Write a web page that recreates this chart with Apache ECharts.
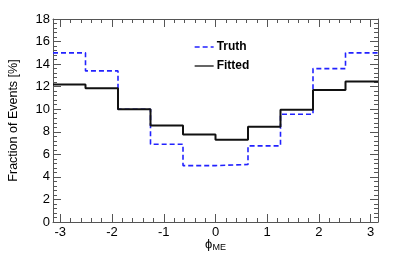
<!DOCTYPE html>
<html><head><meta charset="utf-8">
<script src="https://cdn.jsdelivr.net/npm/echarts@6/dist/echarts.min.js"></script>
<style>html,body{margin:0;padding:0;background:#fff}#c{width:407px;height:256px}</style>
</head><body><div id="c"></div>
<script>
const binEdges = [-3.1416, -2.5133, -1.8850, -1.2566, -0.6283, 0, 0.6283, 1.2566, 1.8850, 2.5133, 3.1416];
const truthValues = [15.0, 13.4, 10.0, 6.9, 5.0, 5.1, 6.75, 9.55, 13.6, 15.0];
const fittedValues = [12.2, 11.85, 10.0, 8.55, 7.75, 7.3, 8.45, 9.95, 11.7, 12.45];
const xMajorTicks = [-3, -2, -1, 0, 1, 2, 3];
const xMinorTicks = [-3.0,-2.8,-2.6,-2.4,-2.2,-1.8,-1.6,-1.4,-1.2,-0.8,-0.6,-0.4,-0.2,0.2,0.4,0.6,0.8,1.2,1.4,1.6,1.8,2.2,2.4,2.6,2.8,3.0].filter(v => !xMajorTicks.includes(v));
const yMajorTicks = [0, 2, 4, 6, 8, 10, 12, 14, 16, 18];
const yMinorTicks = [0.4,0.8,1.2,1.6,2.4,2.8,3.2,3.6,4.4,4.8,5.2,5.6,6.4,6.8,7.2,7.6,8.4,8.8,9.2,9.6,10.4,10.8,11.2,11.6,12.4,12.8,13.2,13.6,14.4,14.8,15.2,15.6,16.4,16.8,17.2,17.6];
const seriesNames = ['Truth', 'Fitted'];

function stepData(vals) {
  const d = vals.map((v, i) => [binEdges[i], v]);
  d.push([binEdges[binEdges.length - 1], vals[vals.length - 1]]);
  return d;
}
const font = 'Liberation Sans, Helvetica, Arial, sans-serif';
const axCol = '#555';
const chart = echarts.init(document.getElementById('c'), null, {renderer: 'canvas'});
const xBase = {type: 'value', min: binEdges[0], max: binEdges[binEdges.length-1], splitLine: {show: false}};
const yBase = {type: 'value', min: 0, max: 18, splitLine: {show: false}};
function xAx(pos, ticks, len, line, label) {
  return Object.assign({}, xBase, {
    position: pos,
    axisLine: {show: line, onZero: false, lineStyle: {color: axCol, width: 1}},
    axisTick: {show: true, inside: true, length: len, customValues: ticks, lineStyle: {color: axCol}},
    axisLabel: label ? {customValues: ticks, fontFamily: font, fontSize: 13, color: '#000', margin: 4} : {show: false}
  });
}
function yAx(pos, ticks, len, line, label) {
  return Object.assign({}, yBase, {
    position: pos,
    axisLine: {show: line, onZero: false, lineStyle: {color: axCol, width: 1}},
    axisTick: {show: true, inside: true, length: len, customValues: ticks, lineStyle: {color: axCol}},
    axisLabel: label ? {customValues: ticks, fontFamily: font, fontSize: 13, color: '#000', margin: 3} : {show: false}
  });
}
const x0 = xAx('bottom', xMajorTicks, 8, true, true);
Object.assign(x0, {
  name: '{p|ϕ}{s|ME}', nameLocation: 'middle', nameGap: 14, nameMoveOverlap: false,
  nameTextStyle: {rich: {p: {fontFamily: font, fontSize: 13, color: '#000'}, s: {fontFamily: font, fontSize: 9, color: '#000', padding: [7, 0, 0, 0]}}}
});
const y0 = yAx('left', yMajorTicks, 8, true, true);
Object.assign(y0, {
  name: 'Fraction of Events [%]', nameLocation: 'middle', nameGap: 33,
  nameTextStyle: {fontFamily: font, fontSize: 12.5, color: '#000'}
});
chart.setOption({
  animation: false,
  grid: {left: 53, right: 29, top: 19, bottom: 34, containLabel: false, outerBoundsMode: 'none'},
  legend: {
    orient: 'vertical', left: 189, top: 36, itemWidth: 19, itemHeight: 12, itemGap: 7,
    data: seriesNames,
    itemStyle: {opacity: 0, borderWidth: 0},
    lineStyle: {width: 1.3},
    textStyle: {fontFamily: font, fontSize: 12, fontWeight: 'bold', color: '#000', padding: [0, 0, 0, -2]}
  },
  xAxis: [x0, xAx('bottom', xMinorTicks, 4, false, false), xAx('top', xMajorTicks, 8, true, false), xAx('top', xMinorTicks, 4, false, false)],
  yAxis: [y0, yAx('left', yMinorTicks, 4, false, false), yAx('right', yMajorTicks, 8, true, false), yAx('right', yMinorTicks, 4, false, false)],
  series: [
    {
      name: 'Truth', type: 'line', step: 'end', data: stepData(truthValues),
      showSymbol: false, symbol: 'none', color: '#2222ff',
      lineStyle: {color: '#2222ff', width: 1.6, type: [5, 3]}
    },
    {
      name: 'Fitted', type: 'line', step: 'end', data: stepData(fittedValues),
      showSymbol: false, symbol: 'none', color: '#111',
      lineStyle: {color: '#111', width: 2}
    }
  ]
});
</script></body></html>
